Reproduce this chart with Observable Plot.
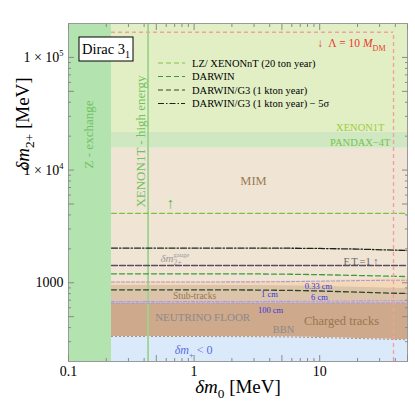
<!DOCTYPE html>
<html><head><meta charset="utf-8">
<script src="https://cdn.jsdelivr.net/npm/d3@7"></script>
<script src="https://cdn.jsdelivr.net/npm/@observablehq/plot@0.6"></script>
<style>body{margin:0;background:#fff} svg{display:block}</style>
</head><body><div id="chart"></div>
<script>
// ---------- data ----------
const xDomain = [0.1, 50];
const yDomain = [200, 2e5];
const xMajor = [0.1, 0.5, 1, 5, 10, 50];
const xMajorLabels = ["0.1", "0.5", "1", "5", "10", "50"];
const xMinor = [0.2, 0.3, 0.4, 0.6, 0.7, 0.8, 0.9, 2, 3, 4, 6, 7, 8, 9, 20, 30, 40];
const yMajor = [500, 1000, 5000, 1e4, 5e4, 1e5];
const yMajorLabels = ["500", "1000", "5000", "1 × 10^{4}", "5 × 10^{4}", "1 × 10^{5}"];
const yMinor = [300, 400, 600, 700, 800, 900, 2000, 3000, 4000, 6000, 7000, 8000, 9000, 2e4, 3e4, 4e4, 6e4, 7e4, 8e4, 9e4];

const zExchangeMax = 0.22;      // δm0 edge of Z-exchange exclusion
const xenonHighEnergyX = 0.43;  // XENON1T high-energy line
const lambdaX = 38.7;           // Λ = 10 M_DM boundary
const lambdaY = 167000;

const bandNames = ["XENON1T", "PANDAX−4T", "MIM"];
const bandLow = [21600, 15600, 200];
const bandHigh = [200000, 21600, 15600];

const curveX = [0.22, 1, 3, 6, 10, 20, 35, 50];
const peachTop  = [1026, 1026, 1028, 1035, 1045, 1065, 1085, 1092];
const stubTop   = [946, 946, 944, 940, 930, 912, 896, 890];
const brownTop  = [655, 655, 655, 655, 655, 655, 655, 655];
const blueTop   = [333, 333, 332, 330, 326, 320, 315, 312];

const lineNames = ["LZ/ XENONnT (20 ton year)", "DARWIN", "DARWIN/G3 (1 kton year)", "DARWIN/G3 (1 kton year) − 5σ"];
const lzLine      = [4130, 4130, 4130, 4130, 4130, 4130, 4130, 4130];
const darwinLine  = [1200, 1200, 1198, 1190, 1180, 1160, 1145, 1135];
const g3Line      = [865, 865, 862, 855, 845, 825, 810, 802];
const g3FiveSigma = [2030, 2030, 2030, 2025, 2015, 1990, 1955, 1932];
const gaugeLine   = [1422, 1422, 1422, 1422, 1422, 1422, 1422, 1422];
const cm033Line   = [1016, 1016, 1018, 1024, 1032, 1045, 1052, 1054];
const cm1Line     = [681, 681, 682, 684, 687, 690, 692, 693];
const cm6Line     = [660, 660, 660, 661, 662, 663, 664, 664];

const annText = ["MIM", "XENON1T", "PANDAX−4T", "!{δm}_{2+}^{gauge}", "F.T.=1 ↑", "0.33 cm", "1 cm", "6 cm", "100 cm",
  "Stub-tracks", "NEUTRINO FLOOR", "Charged tracks", "BBN", "!{δm}_{+} < 0", "↑", "↓  Λ = 10 !{M}_{DM}"];
const annX = [2.97, 32.8, 36.6, 0.54, 15.5, 9.78, 3.98, 9.96, 4.06, 1.01, 1.17, 14.9, 5.15, 0.99, 0.65, 9.6];
const annY = [8070, 23900, 17600, 1640, 1542, 935, 787, 740, 567, 771, 491, 453, 385, 251, 5050, 132700];

const sideText = ["Z - exchange", "XENON1T - high energy"];
const sideX = [0.144, 0.374];
const sideY = [20700, 17900];

// ---------- styles ----------
const annStyle = [
  {fill: "#9c7a55", size: 12.5, anchor: "middle"},
  {fill: "#9fca3f", size: 10.5, anchor: "end"},
  {fill: "#78c24f", size: 10.5, anchor: "end"},
  {fill: "#9a9a9a", size: 11, anchor: "start"},
  {fill: "#666", size: 10.5, anchor: "start"},
  {fill: "#3434e0", size: 8.5, anchor: "middle"},
  {fill: "#3434e0", size: 8.5, anchor: "middle"},
  {fill: "#3434e0", size: 8.5, anchor: "middle"},
  {fill: "#3434e0", size: 8.5, anchor: "middle"},
  {fill: "#9a7550", size: 9.5, anchor: "middle"},
  {fill: "#8a8a8a", size: 11, anchor: "middle"},
  {fill: "#9a7550", size: 12.5, anchor: "middle"},
  {fill: "#8a8a8a", size: 10.5, anchor: "middle"},
  {fill: "#5a6ae6", size: 12, anchor: "middle"},
  {fill: "#5cb84a", size: 15, anchor: "middle"},
  {fill: "#e8382e", size: 11.5, anchor: "start"}
];
const lineStyle = [
  {stroke: "#7cc444", dash: "5,3", w: 1.3},
  {stroke: "#3c9a3c", dash: "5,3", w: 1.3},
  {stroke: "#2a462a", dash: "5,3", w: 1.3},
  {stroke: "#1b261b", dash: "6,2,1.5,2", w: 1.3}
];

// ---------- build ----------
const rows = curveX.map((x, i) => ({
  x, peachTop: peachTop[i], stubTop: stubTop[i], brownTop: brownTop[i], blueTop: blueTop[i],
  lz: lzLine[i], darwin: darwinLine[i], g3: g3Line[i], g35: g3FiveSigma[i], gauge: gaugeLine[i],
  c033: cm033Line[i], c1: cm1Line[i], c6: cm6Line[i]
}));
const bands = bandNames.map((name, i) => ({name, lo: bandLow[i], hi: bandHigh[i]}));
const bandFill = {"XENON1T": "#e2efc5", "PANDAX−4T": "#cfe8c1", "MIM": "#f0e4d4"};
const anns = annText.map((t, i) => ({t, x: annX[i], y: annY[i], ...annStyle[i]}));
const sides = sideText.map((t, i) => ({t, x: sideX[i], y: sideY[i]}));
const xLab = new Map(xMajor.map((v, i) => [v, xMajorLabels[i]]));
const yLab = new Map(yMajor.map((v, i) => [v, yMajorLabels[i]]));
const FONT = "Liberation Serif";
const blank = () => "";
const tickStroke = "#8a8a8a";

const lineMarks = [["lz", 0], ["darwin", 1], ["g3", 2], ["g35", 3]].map(([k, i]) =>
  Plot.line(rows, {x: "x", y: k, stroke: lineStyle[i].stroke, strokeDasharray: lineStyle[i].dash, strokeWidth: lineStyle[i].w}));

const chart = Plot.plot({
  width: 415, height: 407,
  marginLeft: 68, marginRight: 8, marginTop: 23, marginBottom: 46,
  x: {type: "log", domain: xDomain},
  y: {type: "log", domain: yDomain},
  style: {fontFamily: FONT, fontSize: "14px", background: "white", color: "black"},
  marks: [
    Plot.rect(bands, {x1: zExchangeMax, x2: xDomain[1], y1: "lo", y2: "hi", fill: d => bandFill[d.name]}),
    Plot.areaY(rows, {x: "x", y1: "stubTop", y2: "peachTop", fill: "#f5d8b5"}),
    Plot.areaY(rows, {x: "x", y1: "brownTop", y2: "stubTop", fill: "#dcc4aa"}),
    Plot.areaY(rows, {x: "x", y1: "blueTop", y2: "brownTop", fill: "#cfa98b"}),
    Plot.areaY(rows, {x: "x", y1: yDomain[0], y2: "blueTop", fill: "#dbeafb"}),
    Plot.line(rows, {x: "x", y: "blueTop", stroke: "#a08878", strokeDasharray: "1,3", strokeWidth: 1}),
    Plot.rect([zExchangeMax], {x1: xDomain[0], x2: d => d, y1: yDomain[0], y2: yDomain[1], fill: "#b3e3af"}),
    Plot.ruleX([xenonHighEnergyX], {stroke: "#9cd48d", strokeWidth: 1.8}),
    Plot.line(rows, {x: "x", y: "c033", stroke: "#a99be0", strokeDasharray: "3,2", strokeWidth: 1.1}),
    Plot.line(rows, {x: "x", y: "c1", stroke: "#a99be0", strokeDasharray: "3,2,1,2", strokeWidth: 1.1}),
    Plot.line(rows, {x: "x", y: "c6", stroke: "#a99be0", strokeDasharray: "3,2", strokeWidth: 1.1}),
    Plot.line(rows, {x: "x", y: "gauge", stroke: "#5e4a62", strokeDasharray: "6,2", strokeWidth: 1.3}),
    ...lineMarks,
    Plot.ruleY([lambdaY], {x1: zExchangeMax, x2: lambdaX, stroke: "#f2a0a0", strokeDasharray: "4,3", strokeWidth: 1.4}),
    Plot.ruleX([lambdaX], {y1: yDomain[0], y2: lambdaY, stroke: "#f2a0a0", strokeDasharray: "4,3", strokeWidth: 1.4}),
    ...anns.map(a => Plot.text([a], {x: "x", y: "y", text: "t", fill: a.fill, fontSize: a.size, textAnchor: a.anchor})),
    Plot.text(sides, {x: "x", y: "y", text: "t", rotate: -90, fill: "#6fc25f", fontSize: 13}),
    Plot.frame({stroke: "#999"}),
    Plot.axisX({ticks: xMajor, tickSize: -6, tickFormat: blank, label: null, stroke: tickStroke}),
    Plot.axisX({ticks: xMinor, tickSize: -3, tickFormat: blank, label: null, stroke: tickStroke}),
    Plot.axisX({anchor: "top", ticks: xMajor, tickSize: -6, tickFormat: blank, label: null, stroke: tickStroke}),
    Plot.axisX({anchor: "top", ticks: xMinor, tickSize: -3, tickFormat: blank, label: null, stroke: tickStroke}),
    Plot.axisX({ticks: xMajor, tickSize: 0, tickPadding: 5, tickFormat: d => xLab.get(d), label: null, fontSize: 14}),
    Plot.axisY({ticks: yMajor, tickSize: -6, tickFormat: blank, label: null, stroke: tickStroke}),
    Plot.axisY({ticks: yMinor, tickSize: -3, tickFormat: blank, label: null, stroke: tickStroke}),
    Plot.axisY({anchor: "right", ticks: yMajor, tickSize: -6, tickFormat: blank, label: null, stroke: tickStroke}),
    Plot.axisY({anchor: "right", ticks: yMinor, tickSize: -3, tickFormat: blank, label: null, stroke: tickStroke}),
    Plot.axisY({ticks: yMajor, tickSize: 0, tickPadding: 5, tickFormat: d => yLab.get(d), label: null, fontSize: 14}),
    Plot.text(["!{δm}_{0} [MeV]"], {frameAnchor: "bottom", dy: 31, fontSize: 19, text: d => d}),
    Plot.text(["!{δm}_{2+} [MeV]"], {frameAnchor: "left", dx: -46, dy: -22, rotate: -90, fontSize: 19, text: d => d})
  ]
});
document.getElementById("chart").appendChild(chart);

// ---------- legend + panel label ----------
const svg = d3.select(chart);
const lg = svg.append("g").attr("font-family", FONT).attr("font-size", 10.5).attr("text-anchor", "start");
lineNames.forEach((name, i) => {
  const y = 63 + i * 13.5;
  lg.append("line").attr("x1", 158).attr("x2", 185).attr("y1", y).attr("y2", y)
    .attr("stroke", lineStyle[i].stroke).attr("stroke-dasharray", lineStyle[i].dash).attr("stroke-width", 1.2);
  lg.append("text").attr("x", 192).attr("y", y).attr("dy", "0.35em").attr("text-anchor", "start").text(name);
});
const box = svg.append("g").attr("font-family", FONT);
box.append("rect").attr("x", 79).attr("y", 37).attr("width", 54).attr("height", 24)
  .attr("fill", "white").attr("stroke", "black").attr("stroke-width", 1);
box.append("text").attr("x", 106).attr("y", 49).attr("dy", "0.35em").attr("text-anchor", "middle")
  .attr("font-size", 14.5).text("Dirac 3_{1}");

// ---------- rich text (sub/superscripts, italics) ----------
function parse(s) {
  const out = []; let i = 0, buf = "";
  while (i < s.length) {
    const c = s[i];
    if ((c === "_" || c === "^" || c === "!") && s[i + 1] === "{") {
      if (buf) { out.push({t: buf, k: "n"}); buf = ""; }
      const j = s.indexOf("}", i + 2);
      out.push({t: s.slice(i + 2, j), k: c});
      i = j + 1;
    } else { buf += c; i++; }
  }
  if (buf) out.push({t: buf, k: "n"});
  return out;
}
chart.querySelectorAll("text").forEach(t => {
  const s = t.textContent;
  if (!/[_^!]\{/.test(s)) return;
  const fs = parseFloat(getComputedStyle(t).fontSize) || 12;
  while (t.firstChild) t.removeChild(t.firstChild);
  let shift = 0, prev = null, prevKind = null;
  for (const tok of parse(s)) {
    const sp = document.createElementNS("http://www.w3.org/2000/svg", "tspan");
    sp.textContent = tok.t;
    let target = 0;
    if (tok.k === "_") { target = fs * 0.3; sp.setAttribute("font-size", fs * 0.7); }
    else if (tok.k === "^") { target = -fs * 0.42; sp.setAttribute("font-size", fs * 0.6); }
    else if (tok.k === "!") sp.setAttribute("font-style", "italic");
    if (target - shift !== 0) sp.setAttribute("dy", target - shift);
    shift = target;
    t.appendChild(sp);
    if (tok.k === "^" && prevKind === "_" && prev) {
      sp.setAttribute("dx", -prev.getComputedTextLength());
    }
    prev = sp; prevKind = tok.k;
  }
});
</script>
</body></html>
